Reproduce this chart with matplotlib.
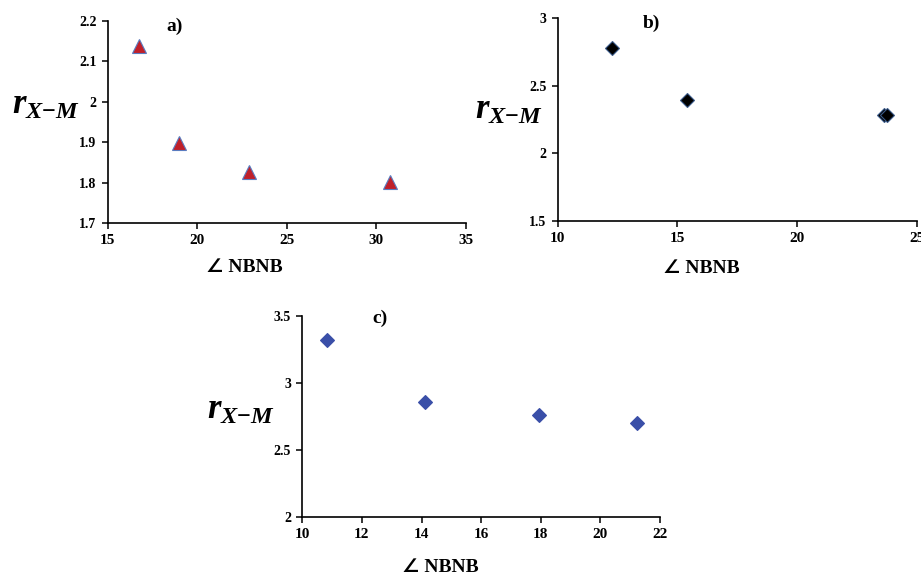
import numpy as np
import matplotlib.pyplot as plt

plt.rcParams['font.family'] = ['Liberation Serif', 'DejaVu Serif']
plt.rcParams['font.weight'] = 'bold'
plt.rcParams['mathtext.fontset'] = 'custom'
plt.rcParams['mathtext.it'] = 'Liberation Serif:italic:bold'
plt.rcParams['mathtext.rm'] = 'Liberation Serif:bold'
plt.rcParams['mathtext.bf'] = 'Liberation Serif:bold'

# datos
angle_a = [16.77, 18.98, 22.88, 30.77]
r_a = [2.138, 1.897, 1.827, 1.802]

angle_b = [12.28, 15.39, 23.62, 23.76]
r_b = [2.778, 2.395, 2.285, 2.280]

angle_c = [10.82, 14.13, 17.93, 21.24]
r_c = [3.319, 2.856, 2.763, 2.700]

fig = plt.figure(figsize=(9.21, 5.75), dpi=100)

ax_a = fig.add_axes([0.1169, 0.6117, 0.3888, 0.3524])
ax_b = fig.add_axes([0.6055, 0.6162, 0.3898, 0.3520])
ax_c = fig.add_axes([0.3282, 0.1003, 0.3884, 0.3506])

panels = [
    (ax_a, angle_a, r_a, '^', '#C0202A', '#5a7cc0', 10, (15, 35), (1.7, 2.2),
     np.arange(15, 36, 5), np.arange(1.7, 2.21, 0.1), 'a)', (0.188, 0.974),
     (-0.267, 0.584), (0.381, -0.216)),
    (ax_b, angle_b, r_b, 'D', '#000000', '#3a5a8a', 7, (10, 25), (1.5, 3.0),
     np.arange(10, 26, 5), np.arange(1.5, 3.01, 0.5), 'b)', (0.262, 0.975),
     (-0.230, 0.547), (0.399, -0.234)),
    (ax_c, angle_c, r_c, 'D', '#3A4FA8', '#3A4FA8', 7, (10, 22), (2.0, 3.5),
     np.arange(10, 23, 2), np.arange(2.0, 3.51, 0.5), 'c)', (0.217, 0.987),
     (-0.266, 0.532), (0.385, -0.250)),
]

for (ax, x, y, mk, fc, ec, ms, xlim, ylim, xt, yt, tag, tagpos,
     ylpos, xlpos) in panels:
    ax.plot(x, y, linestyle='none', marker=mk, markersize=ms,
            markerfacecolor=fc, markeredgecolor=ec, markeredgewidth=0.8,
            clip_on=False)
    ax.set_xlim(*xlim)
    ax.set_ylim(*ylim)
    ax.set_xticks(xt)
    ax.set_yticks(yt)
    ax.set_xticklabels(['%g' % v for v in xt], fontsize=11, fontweight='bold')
    ax.set_yticklabels(['%g' % round(v, 2) for v in yt], fontsize=10,
                       fontweight='bold')
    ax.spines['top'].set_visible(False)
    ax.spines['right'].set_visible(False)
    ax.spines['left'].set_linewidth(1.2)
    ax.spines['bottom'].set_linewidth(1.2)
    ax.tick_params(direction='out', length=4, width=1.1, pad=4)
    ax.text(tagpos[0], tagpos[1], tag, transform=ax.transAxes, ha='center',
            va='center', fontsize=14, fontweight='bold')
    ax.text(ylpos[0], ylpos[1], r'$r_{X{-}M}$', transform=ax.transAxes,
            ha='left', va='center', fontsize=25)
    ax.text(xlpos[0], xlpos[1], '∠ NBNB', transform=ax.transAxes,
            ha='center', va='center', fontsize=14, fontweight='bold',
            family=['Liberation Serif', 'DejaVu Sans'])

fig.savefig('out.png', dpi=100)
